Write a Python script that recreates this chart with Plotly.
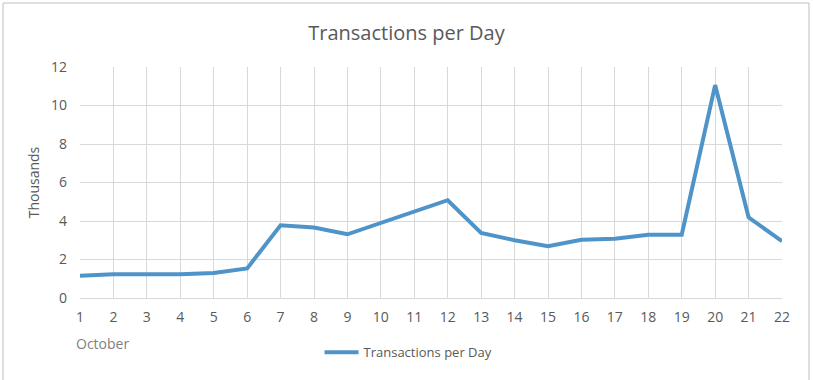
import plotly.graph_objects as go

days = list(range(1, 23))
transactions_k = [1.16, 1.23, 1.23, 1.23, 1.30, 1.54, 3.78, 3.66, 3.31, 3.90, 4.54,
                  5.08, 3.38, 3.00, 2.69, 3.03, 3.08, 3.29, 3.29, 11.06, 4.19, 2.95]
y_ticks = [0, 2, 4, 6, 8, 10, 12]
series_name = "Transactions per Day"

FONT = "Open Sans, sans-serif"
GREY = "#595959"
GRID = "#d9d9d9"

fig = go.Figure()
fig.add_trace(go.Scatter(
    x=days, y=transactions_k, mode="lines", name=series_name,
    line=dict(color="#4f94c9", width=4), cliponaxis=False,
))

fig.update_layout(
    width=813, height=380,
    margin=dict(l=80, r=31, t=67, b=82, autoexpand=False),
    paper_bgcolor="white", plot_bgcolor="white",
    font=dict(family=FONT, color=GREY, size=14),
    title=dict(text="Transactions per Day", x=0.5, xanchor="center",
               y=1 - 33 / 380, yanchor="middle",
               font=dict(family=FONT, size=20, color=GREY)),
    showlegend=True,
    legend=dict(orientation="h", x=0.468, xanchor="center", y=-0.17, yanchor="top",
                bgcolor="rgba(0,0,0,0)", itemwidth=34,
                font=dict(family=FONT, size=13, color=GREY)),
    xaxis=dict(range=[1, 22], tickmode="array", tickvals=days, automargin=False,
               showgrid=True, gridcolor=GRID, gridwidth=1,
               showline=True, linecolor=GRID, zeroline=False,
               ticks="", ticklabelstandoff=6,
               tickfont=dict(family=FONT, size=14, color=GREY)),
    yaxis=dict(range=[0, 12], tickmode="array", tickvals=y_ticks, automargin=False,
               showgrid=True, gridcolor=GRID, gridwidth=1,
               zeroline=False, showline=False, ticks="",
               ticklabelstandoff=12,
               title=dict(text="Thousands", standoff=8,
                          font=dict(family=FONT, size=14, color=GREY)),
               tickfont=dict(family=FONT, size=14, color=GREY)),
    annotations=[dict(text="October", xref="paper", yref="paper",
                      x=-6 / 702, y=-45 / 231, xanchor="left", yanchor="middle",
                      showarrow=False, font=dict(family=FONT, size=14, color="#7f7f7f"))],
    shapes=[dict(type="rect", xref="paper", yref="paper",
                 x0=-77 / 702, x1=1 + 27 / 702, y0=-90 / 231, y1=1 + 64 / 231,
                 line=dict(color="#bfbfbf", width=1), fillcolor="rgba(0,0,0,0)")],
)

fig.write_html("out.html", config={"displayModeBar": False},
               post_script="document.body.style.margin='0';document.body.style.overflow='hidden';")
